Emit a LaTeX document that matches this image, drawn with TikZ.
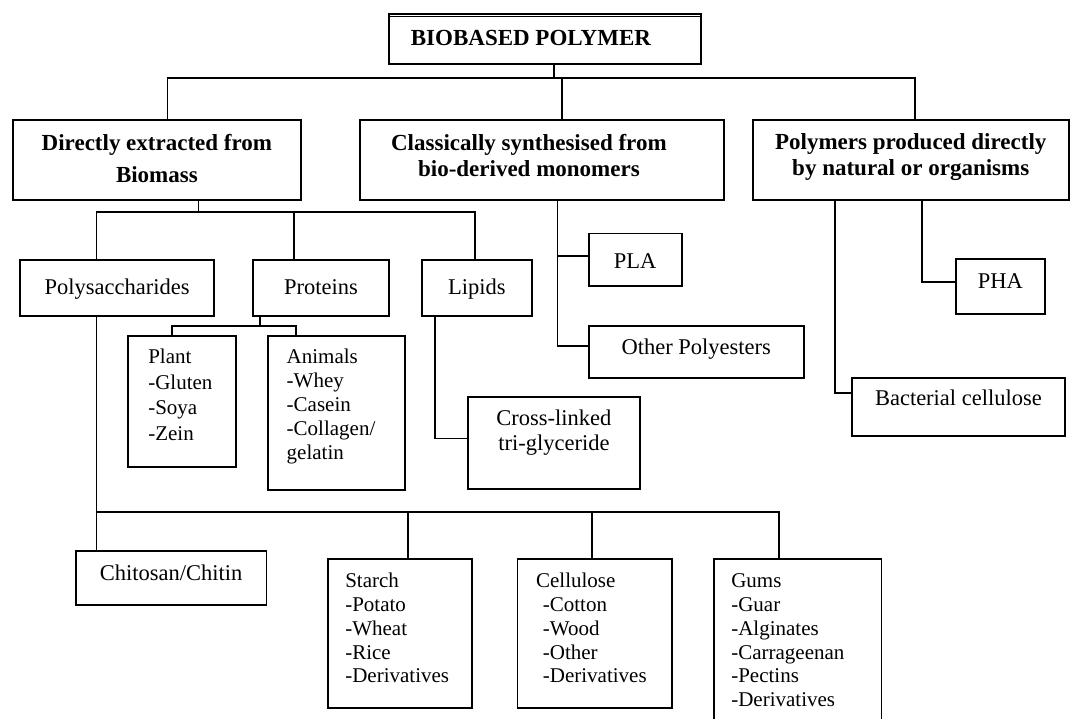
\documentclass[tikz,border=0pt]{standalone}
\usepackage{fontspec}
\setmainfont{Liberation Serif}
% box text: width, height, indent (or right shift), first baseline, text
\newcommand{\ltxt}[5]{\parbox[t][#2pt][t]{#1pt}{\leftskip=#3pt\relax\rule{0pt}{#4pt}#5}}
\newcommand{\ctxt}[5]{\parbox[t][#2pt][t]{#1pt}{\centering\rightskip=#3pt plus 1fil\relax\rule{0pt}{#4pt}#5}}
\tikzset{every picture/.style={line width=1.8pt}}
\tikzset{
  box/.style={draw, anchor=north west, inner sep=0pt},
  head/.style={box, font=\fontsize{23}{26.7}\selectfont\bfseries},
  item/.style={box, font=\fontsize{22.5}{25}\selectfont},
  sublist/.style={box, font=\fontsize{21}{23.7}\selectfont}
}
\begin{document}
\begin{tikzpicture}[x=1pt,y=-1pt]
	\useasboundingbox (0,0) rectangle (1070,719);
	
	%Top
	\node[head] (top) at (388,13.5) {\ltxt{312}{50}{22}{31.5}{BIOBASED POLYMER}};
	\draw[line width=1pt] ([yshift=-3pt]top.north west) -- ([yshift=-3pt]top.north east);
	
	%First level
	\node[head, font=\fontsize{23}{32}\selectfont\bfseries] (bio) at (12,119) {\ctxt{288}{80}{0}{30.3}{Directly extracted from\\Biomass}};
	\node[head] (syn) at (359,119) {\ctxt{364}{80}{26}{30.3}{Classically synthesised from\\bio-derived monomers}};
	\node[head] (org) at (751.7,119) {\ctxt{316.3}{80}{0}{29.3}{Polymers produced directly\\by natural or organisms}};
	
	%Biomass branch
	\node[item] (poly) at (19,259.5) {\ctxt{194.4}{55.5}{0}{34}{Polysaccharides}};
	\node[item] (prot) at (252,259.5) {\ctxt{136.4}{55.5}{0}{34}{Proteins}};
	\node[item] (lip) at (420.8,259.5) {\ctxt{110.2}{55.5}{0}{34}{Lipids}};
	\node[sublist, font=\fontsize{21}{25.5}\selectfont] (plant) at (126.7,335) {\ltxt{108.5}{131}{20.7}{27.7}{Plant\\-Gluten\\-Soya\\-Zein}};
	\node[sublist, font=\fontsize{21}{24}\selectfont] (animal) at (267.2,335) {\ltxt{136.8}{154}{18.6}{27.7}{Animals\\-Whey\\-Casein\\-Collagen/\\gelatin}};
	\node[item] (cross) at (467,396) {\ctxt{172}{92}{0}{29}{Cross-linked\\tri-glyceride}};
	\node[item] (chit) at (75,550) {\ctxt{190.5}{54.3}{0}{30}{Chitosan/Chitin}};
	\node[sublist] (starch) at (327,558) {\ltxt{144}{148.7}{17.4}{29}{Starch\\-Potato\\-Wheat\\-Rice\\-Derivatives}};
	\node[sublist] (cell) at (516.5,558) {\ltxt{154.7}{148.7}{18.7}{29}{Cellulose\\\hspace*{6.8pt}-Cotton\\\hspace*{6.8pt}-Wood\\\hspace*{6.8pt}-Other\\\hspace*{6.8pt}-Derivatives}};
	\node[sublist] (gums) at (713,558) {\ltxt{167.5}{175}{17.4}{29}{Gums\\-Guar\\-Alginates\\-Carrageenan\\-Pectins\\-Derivatives}};
	
	%Monomer branch
	\node[item] (pla) at (587.7,232.7) {\ctxt{93}{52.3}{0}{34.6}{PLA}};
	\node[item] (other) at (587.7,325) {\ctxt{215.3}{52.3}{0}{28.3}{Other Polyesters}};
	
	%Organism branch
	\node[item] (pha) at (955,258.3) {\ctxt{89}{55}{0}{29}{PHA}};
	\node[item] (bact) at (851.3,376.7) {\ctxt{212.4}{58.3}{0}{28.3}{Bacterial cellulose}};
	
	%Connectors
	\coordinate (busA) at (554,78);
	\coordinate (dA1) at (167.5,78);
	\coordinate (dA2) at (561.7,78);
	\coordinate (dA3) at (915,78);
	\draw (top.south -| busA) -- (busA);
	\draw (bio.north -| dA1) |- (dA3) -- (org.north -| dA3);
	\draw (dA2) -- (syn.north -| dA2);
	
	\coordinate (busB) at (198.5,212);
	\coordinate (dB1) at (96.5,212);
	\coordinate (dB2) at (294,212);
	\coordinate (dB3) at (475.2,212);
	\draw (bio.south -| busB) -- (busB);
	\draw (poly.north -| dB1) |- (dB3) -- (lip.north -| dB3);
	\draw (dB2) -- (prot.north -| dB2);
	
	\coordinate (busC) at (259.6,326);
	\coordinate (dC1) at (172.2,326);
	\coordinate (dC2) at (296.1,326);
	\draw (prot.south -| busC) -- (busC);
	\draw (plant.north -| dC1) |- (dC2) -- (animal.north -| dC2);
	
	\coordinate (kL) at (434.6,438.5);
	\draw (lip.south -| kL) |- (cross.west |- kL);
	
	\coordinate (busD) at (96.5,511.7);
	\coordinate (dD1) at (408,511.7);
	\coordinate (dD2) at (592,511.7);
	\coordinate (dD3) at (778.6,511.7);
	\draw (poly.south -| busD) -- (chit.north -| busD);
	\draw (busD) -- (dD3) -- (gums.north -| dD3);
	\draw (dD1) -- (starch.north -| dD1);
	\draw (dD2) -- (cell.north -| dD2);
	
	\coordinate (kP) at (557.5,256);
	\coordinate (kO) at (557.5,346);
	\draw (syn.south -| kP) |- (other.west |- kO);
	\draw (kP) -- (pla.west |- kP);
	
	\coordinate (kH) at (921.7,281.7);
	\coordinate (kB) at (835,392.7);
	\draw (org.south -| kH) |- (pha.west |- kH);
	\draw (org.south -| kB) |- (bact.west |- kB);
	
\end{tikzpicture}
\end{document}
